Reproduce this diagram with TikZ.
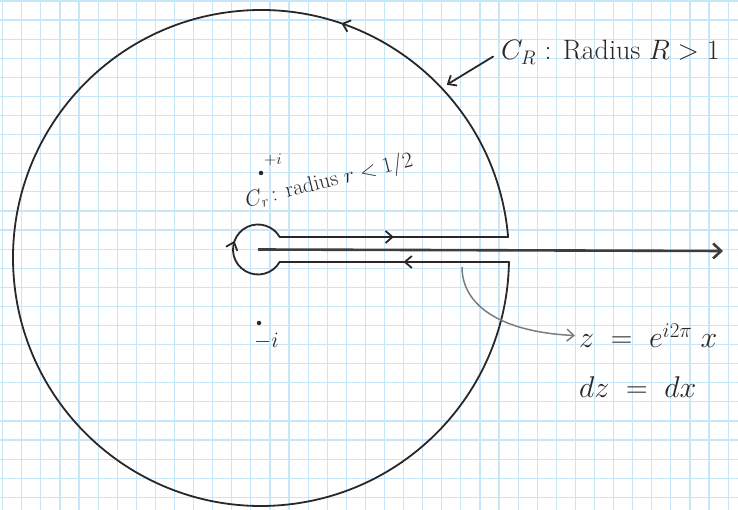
\RequirePackage{fix-cm}
\documentclass[tikz,border=0pt]{standalone}
\usepackage{amsmath, amssymb}
\usepackage{tikz}
\usetikzlibrary{arrows.meta, calc, positioning, decorations.markings}
\usepackage{xcolor}
\definecolor{gridblue}{RGB}{200,230,250}
\definecolor{penink}{RGB}{40,40,40}
\definecolor{pencil}{RGB}{125,125,125}

\begin{document}
\begin{tikzpicture}[x=1pt, y=1pt,
    pen/.style={penink, line width=1.8pt, line cap=round},
    barb/.style={-{Straight Barb[length=7pt, width=12pt]}},
    midarrow/.style={postaction={decorate}, decoration={markings,
        mark=at position #1 with {\arrow{Straight Barb[length=7pt, width=12pt]}}}},
    gridline/.style={gridblue, line width=1.2pt},
    hand/.style={inner sep=1pt, text=penink},
    dot/.style={circle, fill=penink, inner sep=0pt, minimum size=4.5pt}]
    % 背景网格
    \fill[white] (0,0) rectangle (738,510);
    \useasboundingbox (0,0) rectangle (738,510);
    \draw[gridline, step=19.09, shift={(2.7,-6.43)}] (-2.7,6.43) grid (735.3,516.43);

    % 圆心
    \coordinate (O) at (258,260.5);
    \coordinate (C) at (261,252);

    % 正实轴
    \coordinate (axisend) at (723,259);
    \draw[penink!90, line width=2.6pt, -{Straight Barb[length=8pt, width=15pt]}] (O) -- (axisend);

    % 钥匙孔围道
    \coordinate (u1) at ($(O)+(30:25)$);
    \coordinate (u2) at ($(C)+(4.86:248)$);
    \coordinate (l2) at ($(C)+(-0.92:248)$);
    \coordinate (l1) at ($(O)+(-30:25)$);
    \draw[pen, midarrow=0.5] (u1) -- (u2);
    \draw[pen, midarrow=0.187] (u2) arc[start angle=4.86, end angle=359.08, radius=248];
    \draw[pen, midarrow=0.46] (l2) -- (l1);
    \draw[pen, midarrow=0.567] (l1) arc[start angle=-30, end angle=-330, radius=25];

    % 极点
    \node[dot] (pplus) at (261,337) {};
    \node[hand, font=\fontsize{16}{18}\selectfont, anchor=base west] (lplus) at (263,345) {$+i$};
    \node[dot] (pminus) at (259,187) {};
    \node[hand, font=\fontsize{22}{24}\selectfont, anchor=base west] (lminus) at (253,162) {$-i$};

    % 标注
    \node[hand, font=\fontsize{22}{26}\selectfont, rotate=14, anchor=base west] (crlabel) at (246,302) {$C_r\,$: radius $r<1/2$};
    \node[hand, font=\fontsize{28}{32}\selectfont, anchor=base west] (CRlabel) at (500,450) {$C_R$ : Radius $R>1$};
    \coordinate (CRpt) at ($(C)+(43:254)$);
    \draw[pen, barb, shorten <=8pt] (CRlabel.west) -- (CRpt);

    \node[hand, font=\fontsize{30}{34}\selectfont, anchor=base west] (zeq) at (578,162) {$z \;=\; e^{i2\pi}\; x$};
    \node[hand, font=\fontsize{30}{34}\selectfont, anchor=base west] (dzeq) at ($(zeq.base west)+(0,-50)$) {$dz \;=\; dx$};

    \coordinate (cut) at (462,243);
    \draw[pencil, line width=1.5pt, barb, shorten >=3pt] (cut) .. controls (462,205) and (500,178) .. (zeq.west);
\end{tikzpicture}
\end{document}
